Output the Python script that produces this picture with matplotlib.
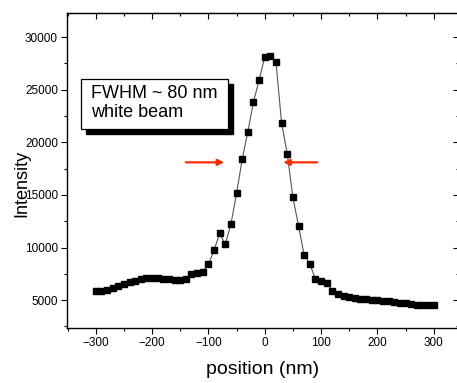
import numpy as np
import matplotlib as mpl
mpl.use('Agg')
import matplotlib.pyplot as plt
from matplotlib.patches import Rectangle
from matplotlib.ticker import MultipleLocator

plt.rcParams['font.family'] = ['Liberation Sans', 'DejaVu Sans']

# line scan, step 10 nm
position = np.arange(-300, 301, 10)
intensity = [5880, 5880, 6010, 6170, 6330, 6580, 6740, 6840, 7000, 7060,
             7120, 7090, 7030, 6970, 6900, 6900, 7000, 7530, 7600, 7720,
             8390, 9750, 11340, 10320, 12220, 15140, 18380, 21000, 23850, 25900,
             28130, 28230, 27650, 21800, 18900, 14780, 12060, 9280, 8450, 7000,
             6840, 6650, 5860, 5540, 5380, 5310, 5220, 5120, 5060, 5000,
             4970, 4900, 4870, 4810, 4750, 4680, 4620, 4560, 4520, 4520,
             4490]

# half-max arrows (x from, x to, y)
arrow_left = (-140, -72, 18100)
arrow_right = (93, 33, 18100)

fig = plt.figure(figsize=(4.57, 3.83), dpi=100)
ax = fig.add_axes([67/457, 55/383, 391.5/457, 315/383])

ax.plot(position, intensity, color='#555555', lw=0.8, zorder=2)
ax.plot(position, intensity, ls='none', marker='s', ms=4.6,
        mfc='black', mec='black', zorder=3)

ax.set_xlim(-351, 344)
ax.set_ylim(2350, 32300)
ax.xaxis.set_major_locator(MultipleLocator(100))
ax.xaxis.set_minor_locator(MultipleLocator(50))
ax.yaxis.set_major_locator(MultipleLocator(5000))
ax.yaxis.set_minor_locator(MultipleLocator(2500))
ax.tick_params(which='both', direction='out', labelsize=8.5, width=0.8, pad=2)
ax.tick_params(which='major', length=4.5)
ax.tick_params(which='minor', length=2.5)
for s in ax.spines.values():
    s.set_linewidth(1.0)

top = ax.secondary_xaxis('top')
top.xaxis.set_major_locator(MultipleLocator(100))
top.xaxis.set_minor_locator(MultipleLocator(50))
top.tick_params(which='both', direction='in', labeltop=False, width=0.8)
top.tick_params(which='major', length=4.5)
top.tick_params(which='minor', length=2.5)
right = ax.secondary_yaxis('right')
right.yaxis.set_major_locator(MultipleLocator(5000))
right.yaxis.set_minor_locator(MultipleLocator(2500))
right.tick_params(which='both', direction='in', labelright=False, width=0.8)
right.tick_params(which='major', length=4)
right.tick_params(which='minor', length=2)

ax.set_xlabel('position (nm)', fontsize=14)
ax.xaxis.set_label_coords(0.5, -0.105)
ax.set_ylabel('Intensity', fontsize=13)
ax.yaxis.set_label_coords(-0.094, 0.46)

# text box with shadow
ax.add_patch(Rectangle((86/457, 1 - 134/383), 147/457, 50/383,
                       transform=fig.transFigure, facecolor='black',
                       edgecolor='black', zorder=4, clip_on=False))
ax.add_patch(Rectangle((81/457, 1 - 129/383), 147/457, 50/383,
                       transform=fig.transFigure, facecolor='white',
                       edgecolor='black', lw=0.9, zorder=5, clip_on=False))
fig.text(91/457, 1 - 103/383, 'FWHM ~ 80 nm\nwhite beam', fontsize=13,
         va='center', ha='left', linespacing=1.2, zorder=6)

for x0, x1, y in (arrow_left, arrow_right):
    ax.annotate('', xy=(x1, y), xytext=(x0, y),
                arrowprops=dict(arrowstyle='-|>', color='#ff2a00', lw=1.6,
                                mutation_scale=9, shrinkA=0, shrinkB=0),
                zorder=6)

fig.savefig('out.png', dpi=100)
